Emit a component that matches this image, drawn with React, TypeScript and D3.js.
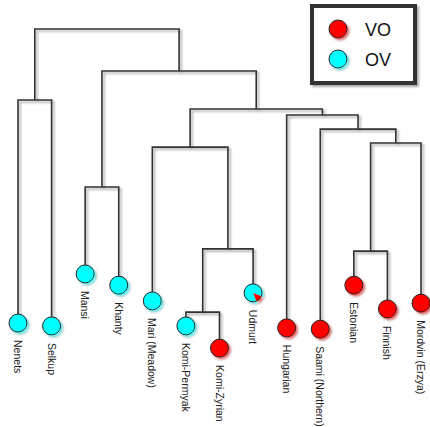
import React from 'react';
import * as d3 from 'd3';

// leaves, left to right
const leaves = [
  'Nenets', 'Selkup', 'Mansi', 'Khanty', 'Mari (Meadow)', 'Komi-Permyak', 'Komi-Zyrian',
  'Udmurt', 'Hungarian', 'Saami (Northern)', 'Estonian', 'Finnish', 'Mordvin (Erzya)',
];
// share of VO order per language (rest is OV)
const voShare = [0, 0, 0, 0, 0, 0, 1, 0.14, 1, 1, 1, 1, 1];
// depth of each leaf (0 = root)
const leafDepth = [0.916, 0.925, 0.763, 0.798, 0.847, 0.925, 0.994, 0.822, 0.931, 0.935, 0.798, 0.872, 0.854];

// merges: children are leaf names or earlier merge ids ("m0", "m1", ...)
const mergeLeft = ['Nenets', 'Mansi', 'Komi-Permyak', 'm2', 'Mari (Meadow)', 'Estonian', 'm5', 'Saami (Northern)', 'Hungarian', 'm4', 'm1', 'm0'];
const mergeRight = ['Selkup', 'Khanty', 'Komi-Zyrian', 'Udmurt', 'm3', 'Finnish', 'Mordvin (Erzya)', 'm6', 'm7', 'm8', 'm9', 'm10'];
const mergeDepth = [0.221, 0.492, 0.882, 0.685, 0.368, 0.692, 0.355, 0.312, 0.268, 0.249, 0.131, 0];

const legendLabels = ['VO', 'OV'];
const colors: Record<string, string> = { VO: '#ff0000', OV: '#00ffff' };

const W = 430;
const H = 427;

export default function App() {
  const x = d3.scalePoint<string>().domain(leaves).range([18, 421]);
  const y = d3.scaleLinear().domain([0, 1]).range([29, 350]);

  const pos: Record<string, { x: number; y: number }> = {};
  leaves.forEach((l, i) => {
    pos[l] = { x: x(l) as number, y: y(leafDepth[i]) };
  });
  const paths: string[] = [];
  mergeDepth.forEach((d, i) => {
    const a = pos[mergeLeft[i]];
    const b = pos[mergeRight[i]];
    const ny = y(d);
    pos['m' + i] = { x: (a.x + b.x) / 2, y: ny };
    const p = d3.path();
    p.moveTo(a.x, a.y);
    p.lineTo(a.x, ny);
    p.lineTo(b.x, ny);
    p.lineTo(b.x, b.y);
    paths.push(p.toString());
  });

  const pie = d3.pie<number>().sort(null).startAngle((110 * Math.PI) / 180).endAngle((110 * Math.PI) / 180 + 2 * Math.PI);
  const arc = d3.arc<d3.PieArcDatum<number>>().innerRadius(0).outerRadius(9);
  const r = 9;

  return (
    <svg width={W} height={H} style={{ position: 'absolute', left: 0, top: 0, background: '#fff' }}
      fontFamily="'Liberation Sans', Arial, sans-serif">
      <defs>
        <filter id="ls" x="-20%" y="-20%" width="140%" height="140%">
          <feDropShadow dx="2" dy="2" stdDeviation="1.3" floodColor="#000" floodOpacity="0.35" />
        </filter>
        <filter id="cs" x="-50%" y="-50%" width="200%" height="200%">
          <feGaussianBlur in="SourceGraphic" stdDeviation="1.3" result="b" />
          <feOffset in="b" dx="1.5" dy="1.5" result="o" />
          <feComponentTransfer in="o" result="t">
            <feFuncA type="linear" slope="0.6" />
          </feComponentTransfer>
          <feMerge>
            <feMergeNode in="t" />
            <feMergeNode in="SourceGraphic" />
          </feMerge>
        </filter>
      </defs>

      <g filter="url(#ls)" fill="none" stroke="#333" strokeWidth={1.6}>
        {paths.map((d, i) => <path key={i} d={d} />)}
      </g>

      {leaves.map((l, i) => {
        const p = pos[l];
        const s = voShare[i];
        return (
          <g key={l} transform={`translate(${p.x},${p.y})`}>
            {s === 0 || s === 1 ? (
              <circle r={r} fill={s === 1 ? colors.VO : colors.OV} stroke="#222" strokeWidth={1} filter="url(#cs)" />
            ) : (
              <g filter="url(#cs)">
                {pie([s, 1 - s]).map((a, j) => (
                  <path key={j} d={arc(a) as string} fill={j === 0 ? colors.VO : colors.OV} />
                ))}
                <circle r={r} fill="none" stroke="#222" strokeWidth={1} />
              </g>
            )}
            <text transform="translate(0,17) rotate(90)" dominantBaseline="central" fontSize={10.5} fill="#222">{l}</text>
          </g>
        );
      })}

      <g>
        <rect x={312} y={6} width={103} height={77} fill="#fff" stroke="#333" strokeWidth={4} filter="url(#ls)" />
        {legendLabels.map((lab, i) => (
          <g key={lab} transform={`translate(338,${29 + i * 30})`}>
            <circle r={9} fill={colors[lab]} stroke="#222" strokeWidth={1} filter="url(#cs)" />
            <text x={27} y={1} dominantBaseline="central" fontSize={18} fill="#111">{lab}</text>
          </g>
        ))}
      </g>
    </svg>
  );
}
